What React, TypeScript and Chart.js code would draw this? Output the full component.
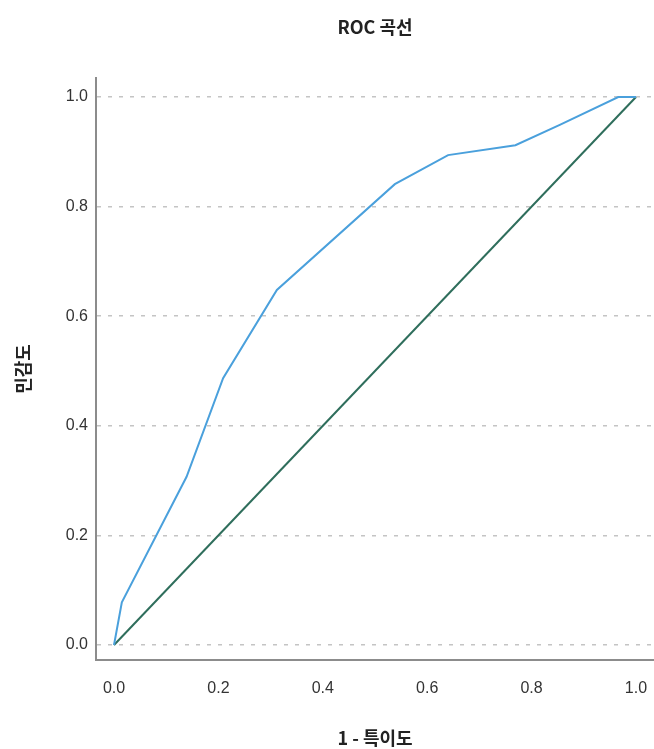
import React, { useEffect, useRef } from 'react';
import { Chart, registerables } from 'chart.js';

Chart.register(...registerables);

const chartTitle = 'ROC 곡선';
const xAxisTitle = '1 - 특이도';
const yAxisTitle = '민감도';
const tickValues = [0, 0.2, 0.4, 0.6, 0.8, 1.0];

// ROC curve (1 - specificity, sensitivity)
const rocX = [0, 0.015, 0.139, 0.209, 0.312, 0.538, 0.64, 0.769, 0.854, 0.966, 1.0];
const rocY = [0, 0.078, 0.307, 0.487, 0.648, 0.841, 0.894, 0.912, 0.949, 1.0, 1.0];

// Reference (chance) line
const refX = [0, 1];
const refY = [0, 1];

const titlePlugin = {
  id: 'centerTitle',
  afterDraw(chart: any) {
    const { ctx, chartArea } = chart;
    ctx.save();
    ctx.font = 'bold 18px "Noto Sans CJK KR", "Liberation Sans", sans-serif';
    ctx.fillStyle = '#222222';
    ctx.textAlign = 'center';
    ctx.textBaseline = 'middle';
    ctx.fillText(chartTitle, (chartArea.left + chartArea.right) / 2, 27);
    ctx.restore();
  },
};

export default function App() {
  const canvasRef = useRef<HTMLCanvasElement | null>(null);

  useEffect(() => {
    document.body.style.margin = '0';
    const canvas = canvasRef.current;
    if (!canvas) return;
    const tickFont = { family: '"Liberation Sans", Arial, sans-serif', size: 16 };
    const titleFont = { family: '"Noto Sans CJK KR", sans-serif', size: 18, weight: 'bold' as const };
    const setTicks = (s: any) => {
      s.ticks = tickValues.map((v) => ({ value: v }));
    };
    const chart = new Chart(canvas, {
      type: 'line',
      data: {
        datasets: [
          {
            label: 'ROC',
            data: rocX.map((x, i) => ({ x, y: rocY[i] })),
            borderColor: '#4aa0dc',
            borderWidth: 2,
            pointRadius: 0,
            tension: 0,
            fill: false,
          },
          {
            label: 'Reference',
            data: refX.map((x, i) => ({ x, y: refY[i] })),
            borderColor: '#2f6e5c',
            borderWidth: 2,
            pointRadius: 0,
            tension: 0,
            fill: false,
          },
        ],
      },
      options: {
        responsive: false,
        animation: false,
        devicePixelRatio: 1,
        layout: { padding: { top: 78, right: 0, left: 0, bottom: 0 } },
        plugins: {
          legend: { display: false },
          tooltip: { enabled: false },
          title: { display: false },
        },
        scales: {
          x: {
            type: 'linear',
            min: -0.0345,
            max: 1.0345,
            afterBuildTicks: setTicks,
            afterFit: (s: any) => {
              s.height = 89;
              s.paddingRight = 0;
              s.paddingLeft = 0;
            },
            grid: { display: true, drawOnChartArea: false, drawTicks: false },
            border: { display: true, color: '#8c8c8c', width: 2 },
            ticks: {
              font: tickFont,
              color: '#333333',
              padding: 19,
              maxRotation: 0,
              autoSkip: false,
              callback: (v: any) => Number(v).toFixed(1),
            },
            title: {
              display: true,
              text: xAxisTitle,
              font: titleFont,
              color: '#222222',
              padding: { top: 3, bottom: 0 },
            },
          },
          y: {
            type: 'linear',
            min: -0.0274,
            max: 1.0347,
            afterBuildTicks: setTicks,
            afterFit: (s: any) => {
              s.width = 96;
              s.paddingTop = 0;
              s.paddingBottom = 0;
            },
            grid: {
              display: true,
              drawTicks: false,
              color: '#c4c4c4',
              lineWidth: 1.5,
            },
            border: { display: true, color: '#8c8c8c', width: 2, dash: [4, 7] },
            ticks: {
              font: tickFont,
              color: '#333333',
              padding: 8,
              autoSkip: false,
              callback: (v: any) => Number(v).toFixed(1),
            },
            title: {
              display: true,
              text: yAxisTitle,
              font: titleFont,
              color: '#222222',
              padding: { top: 12, bottom: 0 },
            },
          },
        },
      },
      plugins: [titlePlugin],
    });
    return () => {
      chart.destroy();
    };
  }, []);

  return (
    <div style={{ width: 654, height: 749 }}>
      <canvas ref={canvasRef} width={654} height={749} style={{ display: 'block' }} />
    </div>
  );
}
